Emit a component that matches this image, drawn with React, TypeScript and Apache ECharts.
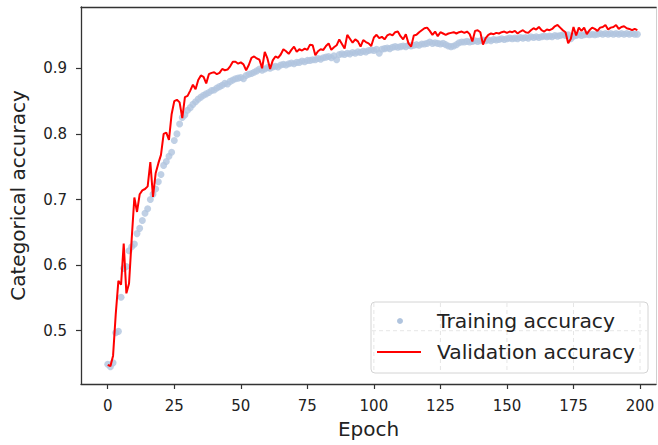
import React, { useEffect, useRef } from "react";
import * as echarts from "echarts";

const trainingAccuracy: number[] = [
  0.449, 0.445, 0.451, 0.497, 0.499, 0.551, 0.595, 0.598, 0.622, 0.628,
  0.632, 0.648, 0.656, 0.668, 0.679, 0.686, 0.700, 0.708, 0.716, 0.727,
  0.738, 0.752, 0.758, 0.766, 0.772, 0.790, 0.800, 0.815, 0.825, 0.829,
  0.836, 0.840, 0.845, 0.849, 0.853, 0.856, 0.859, 0.861, 0.863, 0.866,
  0.867, 0.870, 0.872, 0.874, 0.877, 0.876, 0.880, 0.882, 0.884, 0.885,
  0.886, 0.884, 0.889, 0.891, 0.892, 0.894, 0.896, 0.899, 0.897, 0.899,
  0.901, 0.900, 0.902, 0.903, 0.902, 0.905, 0.906, 0.905, 0.907, 0.908,
  0.907, 0.909, 0.909, 0.911, 0.910, 0.912, 0.912, 0.913, 0.913, 0.915,
  0.914, 0.916, 0.917, 0.918, 0.916, 0.919, 0.913, 0.921, 0.922, 0.921,
  0.923, 0.922, 0.924, 0.923, 0.925, 0.924, 0.926, 0.925, 0.927, 0.928,
  0.927, 0.929, 0.923, 0.929, 0.930, 0.931, 0.930, 0.932, 0.933, 0.932,
  0.933, 0.934, 0.933, 0.935, 0.934, 0.935, 0.936, 0.935, 0.937, 0.937,
  0.938, 0.940, 0.938, 0.939, 0.938, 0.937, 0.938, 0.936, 0.934, 0.933,
  0.934, 0.936, 0.939, 0.940, 0.940, 0.941, 0.940, 0.941, 0.942, 0.941,
  0.942, 0.943, 0.942, 0.943, 0.942, 0.944, 0.943, 0.944, 0.945, 0.944,
  0.945, 0.946, 0.945, 0.946, 0.945, 0.947, 0.946, 0.947, 0.946, 0.948,
  0.947, 0.948, 0.947, 0.948, 0.949, 0.948, 0.949, 0.948, 0.950, 0.949,
  0.950, 0.951, 0.950, 0.951, 0.945, 0.949, 0.950, 0.951, 0.950, 0.951,
  0.952, 0.951, 0.952, 0.951, 0.952, 0.953, 0.952, 0.953, 0.952, 0.953,
  0.952, 0.953, 0.952, 0.953, 0.952, 0.953, 0.952, 0.953, 0.952, 0.952,
];

const validationAccuracy: number[] = [
  0.448, 0.446, 0.462, 0.525, 0.576, 0.570, 0.633, 0.557, 0.572, 0.640,
  0.703, 0.681, 0.708, 0.714, 0.716, 0.720, 0.757, 0.704, 0.740, 0.755,
  0.768, 0.800, 0.802, 0.791, 0.830, 0.850, 0.852, 0.848, 0.824, 0.856,
  0.858, 0.866, 0.875, 0.868, 0.882, 0.889, 0.887, 0.877, 0.891, 0.893,
  0.894, 0.891, 0.893, 0.899, 0.897, 0.898, 0.903, 0.910, 0.910, 0.907,
  0.909, 0.906, 0.897, 0.905, 0.916, 0.918, 0.915, 0.913, 0.900, 0.925,
  0.915, 0.899, 0.912, 0.918, 0.916, 0.921, 0.929, 0.926, 0.922, 0.928,
  0.933, 0.925, 0.929, 0.927, 0.930, 0.928, 0.936, 0.935, 0.920, 0.926,
  0.929, 0.928, 0.934, 0.938, 0.928, 0.932, 0.935, 0.944, 0.937, 0.930,
  0.951, 0.945, 0.939, 0.944, 0.941, 0.933, 0.943, 0.940, 0.938, 0.934,
  0.947, 0.951, 0.946, 0.948, 0.944, 0.950, 0.952, 0.950, 0.955, 0.956,
  0.949, 0.944, 0.952, 0.938, 0.933, 0.950, 0.951, 0.955, 0.958, 0.961,
  0.962, 0.957, 0.951, 0.956, 0.949, 0.955, 0.953, 0.951, 0.953, 0.954,
  0.955, 0.953, 0.955, 0.956, 0.954, 0.956, 0.952, 0.941, 0.957, 0.958,
  0.955, 0.936, 0.946, 0.951, 0.953, 0.952, 0.954, 0.953, 0.955, 0.956,
  0.954, 0.956, 0.955, 0.957, 0.953, 0.956, 0.958, 0.955, 0.954, 0.958,
  0.961, 0.959, 0.963, 0.958, 0.956, 0.959, 0.958, 0.960, 0.964, 0.966,
  0.962, 0.958, 0.955, 0.938, 0.945, 0.963, 0.950, 0.962, 0.957, 0.962,
  0.952, 0.958, 0.962, 0.960, 0.957, 0.962, 0.963, 0.966, 0.959, 0.962,
  0.963, 0.966, 0.960, 0.963, 0.964, 0.961, 0.960, 0.958, 0.960, 0.958,
];

const xTicks: number[] = [0, 25, 50, 75, 100, 125, 150, 175, 200];
const yTicks: number[] = [0.5, 0.6, 0.7, 0.8, 0.9];
const seriesNames: string[] = ["Training accuracy", "Validation accuracy"];
const axisNames = { x: "Epoch", y: "Categorical accuracy" };

const FONT = "DejaVu Sans";
const TEXT = "#222222";
const SPINE = "#333333";

export default function App() {
  const ref = useRef<HTMLDivElement>(null);

  useEffect(() => {
    document.body.style.margin = "0";
    if (!ref.current) return;
    const chart = echarts.init(ref.current, undefined, { renderer: "svg" });

    const trainData = trainingAccuracy.map((v, i) => [i, v]);
    const valData = validationAccuracy.map((v, i) => [i, v]);

    const grid = { left: 80, right: 2, top: 7, bottom: 61 };

    chart.setOption({
      animation: false,
      backgroundColor: "#ffffff",
      grid,
      xAxis: [
        {
          type: "value",
          min: -10.05,
          max: 206,
          name: axisNames.x,
          nameLocation: "middle",
          nameGap: 35,
          nameTextStyle: { fontFamily: FONT, fontSize: 20, color: TEXT },
          axisLine: { show: true, onZero: false, lineStyle: { color: SPINE, width: 1.3 } },
          axisTick: {
            show: true,
            length: 5,
            inside: false,
            customValues: xTicks,
            lineStyle: { color: SPINE, width: 1.2 },
          },
          axisLabel: {
            show: true,
            customValues: xTicks,
            margin: 14,
            fontFamily: FONT,
            fontSize: 15,
            color: TEXT,
          },
          splitLine: { show: false },
        },
        {
          type: "value",
          position: "top",
          min: -10.05,
          max: 206,
          axisLine: { show: true, onZero: false, lineStyle: { color: SPINE, width: 1.3 } },
          axisTick: { show: false },
          axisLabel: { show: false },
          splitLine: { show: false },
        },
      ],
      yAxis: [
        {
          type: "value",
          position: "left",
          min: 0.4188,
          max: 0.9934,
          name: axisNames.y,
          nameLocation: "middle",
          nameGap: 53,
          nameTextStyle: { fontFamily: FONT, fontSize: 20, color: TEXT },
          axisLine: { show: true, onZero: false, lineStyle: { color: SPINE, width: 1.3 } },
          axisTick: {
            show: true,
            length: 5,
            inside: false,
            customValues: yTicks,
            lineStyle: { color: SPINE, width: 1.2 },
          },
          axisLabel: {
            show: true,
            customValues: yTicks,
            margin: 14,
            fontFamily: FONT,
            fontSize: 15,
            color: TEXT,
            formatter: (v: number) => v.toFixed(1),
          },
          splitLine: { show: false },
        },
        {
          type: "value",
          position: "right",
          min: 0.4188,
          max: 0.9934,
          axisLine: { show: true, onZero: false, lineStyle: { color: "#d0d0d0", width: 1 } },
          axisTick: { show: false },
          axisLabel: { show: false },
          splitLine: { show: false },
        },
      ],
      series: [
        {
          name: seriesNames[0],
          type: "scatter",
          data: trainData,
          symbol: "circle",
          symbolSize: 7,
          itemStyle: { color: "#b0c4de" },
          z: 2,
        },
        {
          name: seriesNames[1],
          type: "line",
          data: valData,
          showSymbol: false,
          symbol: "none",
          lineStyle: { color: "#ff0000", width: 2 },
          z: 3,
        },
      ],
    });

    // Legend box (matplotlib style), with faint grid lines visible inside it
    const box = { x: 371, y: 302, w: 277, h: 71 };
    const gridLines: any[] = [];
    xTicks.forEach((t) => {
      const px = chart.convertToPixel({ xAxisIndex: 0 }, t) as number;
      if (px > box.x + 1 && px < box.x + box.w - 1) {
        gridLines.push({
          type: "line",
          shape: { x1: px, y1: box.y + 1, x2: px, y2: box.y + box.h - 1 },
          style: { stroke: "#e6e6e6", lineWidth: 1, lineDash: [4, 3] },
          z: 101,
        });
      }
    });
    yTicks.forEach((t) => {
      const py = chart.convertToPixel({ yAxisIndex: 0 }, t) as number;
      if (py > box.y + 1 && py < box.y + box.h - 1) {
        gridLines.push({
          type: "line",
          shape: { x1: box.x + 1, y1: py, x2: box.x + box.w - 1, y2: py },
          style: { stroke: "#e6e6e6", lineWidth: 1, lineDash: [4, 3] },
          z: 101,
        });
      }
    });

    chart.setOption({
      graphic: [
        {
          type: "rect",
          shape: { x: box.x, y: box.y, width: box.w, height: box.h, r: 4 },
          style: { fill: "#ffffff", stroke: "#d4d4d4", lineWidth: 1 },
          z: 100,
        },
        ...gridLines,
        {
          type: "circle",
          shape: { cx: 400, cy: 321, r: 3 },
          style: { fill: "#b0c4de" },
          z: 102,
        },
        {
          type: "line",
          shape: { x1: 377, y1: 352, x2: 421, y2: 352 },
          style: { stroke: "#ff0000", lineWidth: 2 },
          z: 102,
        },
        {
          type: "text",
          x: 437,
          y: 321,
          style: {
            text: seriesNames[0],
            fontFamily: FONT,
            fontSize: 20.3,
            fill: TEXT,
            textAlign: "left",
            textVerticalAlign: "middle",
          },
          z: 102,
        },
        {
          type: "text",
          x: 437,
          y: 352,
          style: {
            text: seriesNames[1],
            fontFamily: FONT,
            fontSize: 20.3,
            fill: TEXT,
            textAlign: "left",
            textVerticalAlign: "middle",
          },
          z: 102,
        },
      ],
    });

    return () => {
      chart.dispose();
    };
  }, []);

  return <div ref={ref} style={{ width: 658, height: 445 }} />;
}
